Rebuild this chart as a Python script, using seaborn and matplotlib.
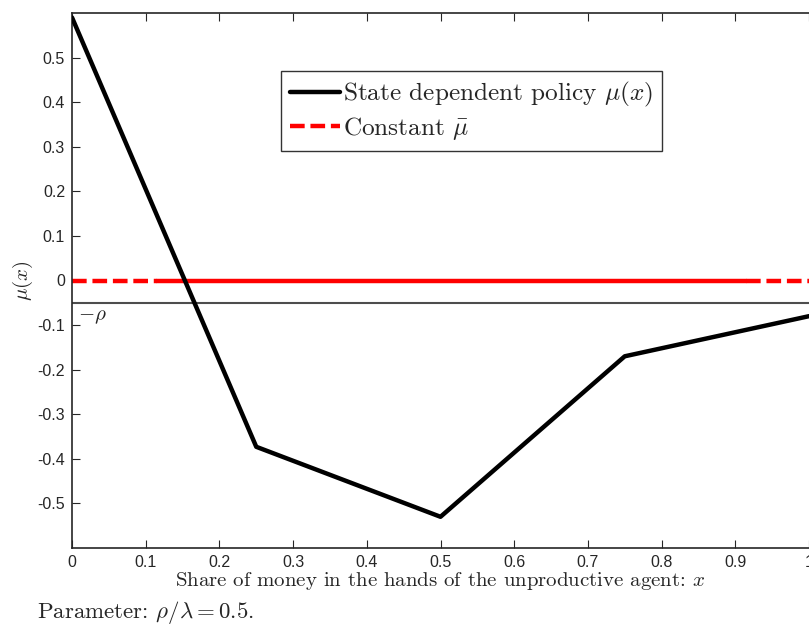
import numpy as np
import pandas as pd
import matplotlib
matplotlib.use("Agg")
import matplotlib.pyplot as plt
import seaborn as sns

# data
policy_x = [0.0, 0.25, 0.5, 0.75, 1.0]
policy_mu = [0.59, -0.373, -0.53, -0.17, -0.08]
const_mu_value = 0.0
const_dash_x = [0.0, 0.115, 0.915, 1.0]
const_dash_seg = [0, 0, 1, 1]
const_solid_x = [0.115, 0.915]
rho = 0.05
x_ticks = [0, 0.1, 0.2, 0.3, 0.4, 0.5, 0.6, 0.7, 0.8, 0.9, 1.0]
x_tick_labels = ["0", "0.1", "0.2", "0.3", "0.4", "0.5", "0.6", "0.7", "0.8", "0.9", "1"]
y_ticks = [-0.5, -0.4, -0.3, -0.2, -0.1, 0, 0.1, 0.2, 0.3, 0.4, 0.5]
y_tick_labels = ["-0.5", "-0.4", "-0.3", "-0.2", "-0.1", "0", "0.1", "0.2", "0.3", "0.4", "0.5"]

sns.set_style("ticks")
plt.rcParams["font.family"] = ["Liberation Sans", "DejaVu Sans"]
plt.rcParams["mathtext.fontset"] = "cm"

fig = plt.figure(figsize=(8.09, 6.25), dpi=100)
ax = fig.add_axes([72 / 809, 1 - 548 / 625, 737 / 809, 535 / 625])

df_pol = pd.DataFrame({"x": policy_x, "mu": policy_mu})
df_cd = pd.DataFrame({"x": const_dash_x, "mu": [const_mu_value] * len(const_dash_x),
                      "seg": const_dash_seg})
df_cs = pd.DataFrame({"x": const_solid_x, "mu": [const_mu_value] * 2})

ax.axhline(-rho, color="#4d4d4d", lw=1.5, zorder=1)
sns.lineplot(data=df_cd, x="x", y="mu", units="seg", estimator=None, ax=ax,
             color="red", lw=3.2, linestyle=(0, (3.3, 1.3)),
             label=r"Constant $\bar{\mu}$", zorder=2)
sns.lineplot(data=df_cs, x="x", y="mu", ax=ax, color="red", lw=3.2,
             linestyle="-", zorder=2)
sns.lineplot(data=df_pol, x="x", y="mu", ax=ax, color="black", lw=3.2,
             label=r"State dependent policy $\mu(x)$", zorder=3)

ax.set_xlim(0, 1)
ax.set_ylim(-0.6, 0.6)
ax.set_xticks(x_ticks)
ax.set_xticklabels(x_tick_labels, fontsize=11.5)
ax.set_yticks(y_ticks)
ax.set_yticklabels(y_tick_labels, fontsize=11.5)
ax.tick_params(direction="in", length=6, width=0.8, top=True, right=False, pad=5)
for s in ["left", "bottom", "top"]:
    ax.spines[s].set_linewidth(1.2)
    ax.spines[s].set_visible(True)
ax.spines["right"].set_visible(False)

ax.set_xlabel("Share of money in the hands of the unproductive agent: $x$",
              family="cmr10", fontsize=15, labelpad=0)
ax.set_ylabel(r"$\mu(x)$", fontsize=15, labelpad=2)
ax.text(0.008, -rho - 0.01, r"$-\rho$", fontsize=15, va="top", ha="left")

handles, labels = ax.get_legend_handles_labels()
hmap = dict(zip(labels, handles))
order = [r"State dependent policy $\mu(x)$", r"Constant $\bar{\mu}$"]
leg = ax.legend([hmap[k] for k in order], order,
                loc="upper left", bbox_to_anchor=(0.2835, 0.8907),
                frameon=True, fancybox=False, edgecolor="black",
                prop={"family": "cmr10", "size": 18.2}, handlelength=2.0,
                handletextpad=0.1, borderpad=0.35, labelspacing=0.22,
                borderaxespad=0)
leg.get_frame().set_linewidth(1.0)

fig.text(37 / 809, 1 - 612 / 625, r"Parameter: $\rho/\lambda = 0.5$.",
         family="cmr10", fontsize=16.5, va="center", ha="left")

fig.savefig("out.png", dpi=100)
